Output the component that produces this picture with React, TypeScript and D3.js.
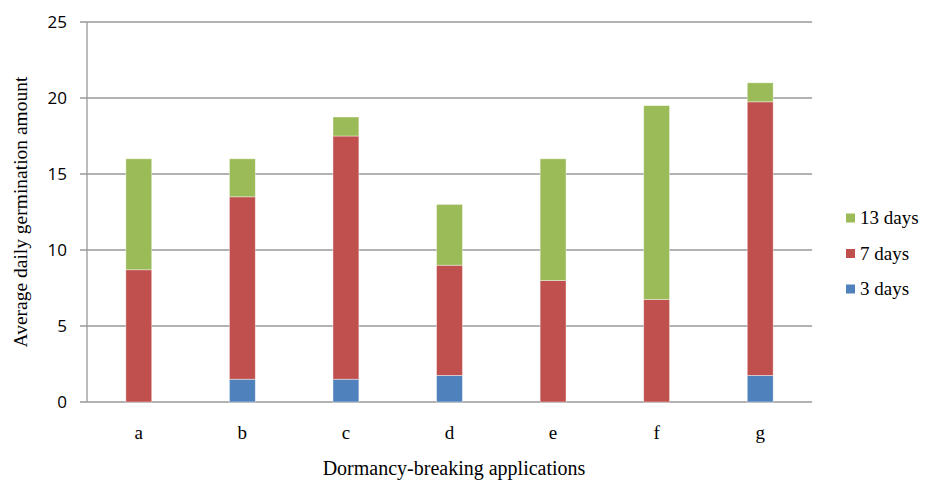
import React from "react";
import * as d3 from "d3";

const categories = ["a", "b", "c", "d", "e", "f", "g"];
const seriesNames = ["3 days", "7 days", "13 days"];
const days3 = [0, 1.5, 1.5, 1.75, 0, 0, 1.75];
const days7 = [8.7, 12, 16, 7.25, 8, 6.75, 18];
const days13 = [7.3, 2.5, 1.25, 4, 8, 12.75, 1.25];
const colors = ["#4F81BD", "#C0504D", "#9BBB59"];
const yTicks = [0, 5, 10, 15, 20, 25];

export default function App() {
  const W = 934, H = 481;
  const left = 87, right = 812, top = 22, bottom = 402;
  const x = d3.scaleBand<string>().domain(categories).range([left, right]).paddingInner(0.75).paddingOuter(0.375);
  const y = d3.scaleLinear().domain([0, 25]).range([bottom, top]);
  const rows = categories.map((c, i) => ({ cat: c, s0: days3[i], s1: days7[i], s2: days13[i] }));
  const stacked = d3.stack<any>().keys(["s0", "s1", "s2"])(rows);
  const grid = "#989898";
  const legendOrder = [2, 1, 0];
  const serif = "'Liberation Serif', 'Times New Roman', serif";
  return (
    <svg width={W} height={H} style={{ position: "absolute", left: 0, top: 0 }}>
      <rect width={W} height={H} fill="#fff" />
      {yTicks.map((t) => (
        <g key={t}>
          <line x1={80} x2={right} y1={y(t)} y2={y(t)} stroke={grid} strokeWidth={1.3} />
          <text x={67} y={y(t)} dy="0.36em" textAnchor="end" fontFamily="'Open Sans', sans-serif" fontSize={17} fill="#000">{t}</text>
        </g>
      ))}
      <line x1={left} x2={left} y1={top} y2={bottom} stroke={grid} strokeWidth={1.3} />
      {stacked.map((layer, si) => (
        <g key={si}>
          {layer.map((d: any, i: number) => (
            d[1] - d[0] > 0 ? (
              <rect key={i} x={x(categories[i])} width={x.bandwidth()} y={y(d[1])} height={y(d[0]) - y(d[1])}
                fill={colors[si]} stroke="#fff" strokeOpacity={0.5} strokeWidth={0.8} />
            ) : null
          ))}
        </g>
      ))}
      {categories.map((c) => (
        <text key={c} x={(x(c) as number) + x.bandwidth() / 2} y={439} textAnchor="middle" fontFamily={serif} fontSize={19}>{c}</text>
      ))}
      <text x={454} y={475} textAnchor="middle" fontFamily={serif} fontSize={20}>Dormancy-breaking applications</text>
      <text transform={`translate(27, 212) rotate(-90)`} textAnchor="middle" fontFamily={serif} fontSize={19.5}>Average daily germination amount</text>
      {legendOrder.map((si, k) => (
        <g key={si} transform={`translate(846, ${218 + k * 35.5})`}>
          <rect x={0} y={-4.5} width={9} height={9} fill={colors[si]} />
          <text x={14} y={0} dy="0.34em" fontFamily={serif} fontSize={19}>{seriesNames[si]}</text>
        </g>
      ))}
    </svg>
  );
}
